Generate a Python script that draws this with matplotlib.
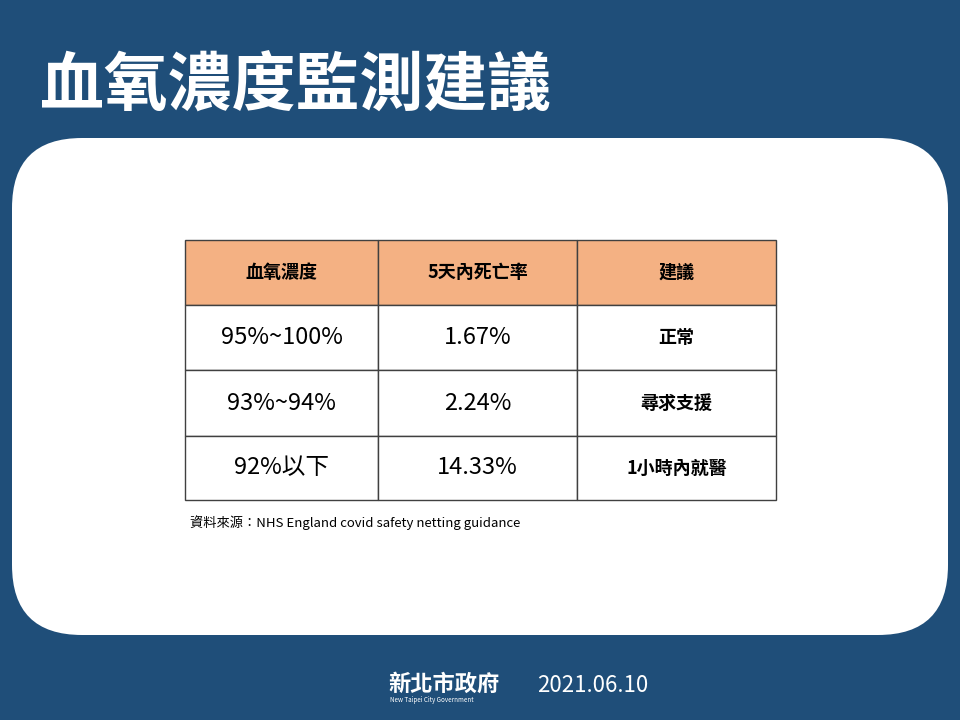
import matplotlib
matplotlib.use("Agg")
import matplotlib.pyplot as plt
from matplotlib.patches import FancyBboxPatch, Rectangle

plt.rcParams['font.family'] = ['Noto Sans CJK TC', 'DejaVu Sans']

BG = "#1F4E79"
HEAD = "#F4B183"
LINE = "#404040"

headers = ["血氧濃度", "5天內死亡率", "建議"]
spo2 = ["95%~100%", "93%~94%", "92%以下"]
death_rate = ["1.67%", "2.24%", "14.33%"]
advice = ["正常", "尋求支援", "1小時內就醫"]

col_x = [185, 378, 577, 776]
row_y = [240, 305, 370, 436, 500]

fig = plt.figure(figsize=(9.6, 7.2), dpi=100)
fig.patch.set_facecolor(BG)
ax = fig.add_axes([0, 0, 1, 1])
ax.set_xlim(0, 960)
ax.set_ylim(720, 0)
ax.axis("off")

ax.text(40, 86, "血氧濃度監測建議", ha="left", va="center",
        fontsize=46, fontweight="bold", color="white")

ax.add_patch(FancyBboxPatch((12, 138), 936, 497,
             boxstyle="round,pad=0,rounding_size=70", fc="white", ec="none"))

# header row
for j, h in enumerate(headers):
    ax.add_patch(Rectangle((col_x[j], row_y[0]), col_x[j + 1] - col_x[j],
                 row_y[1] - row_y[0], fc=HEAD, ec=LINE, lw=1))
    ax.text((col_x[j] + col_x[j + 1]) / 2, (row_y[0] + row_y[1]) / 2, h,
            ha="center", va="center", fontsize=13, fontweight="bold", color="black")

columns = [spo2, death_rate, advice]
for i in range(len(spo2)):
    for j, col in enumerate(columns):
        ax.add_patch(Rectangle((col_x[j], row_y[i + 1]), col_x[j + 1] - col_x[j],
                     row_y[i + 2] - row_y[i + 1], fc="white", ec=LINE, lw=1))
        bold = j == 2
        ax.text((col_x[j] + col_x[j + 1]) / 2, (row_y[i + 1] + row_y[i + 2]) / 2,
                col[i], ha="center", va="center",
                fontsize=13 if bold else 17,
                fontweight="bold" if bold else "normal", color="black")

ax.text(190, 523, "資料來源：NHS England covid safety netting guidance",
        ha="left", va="center", fontsize=9.5, color="black")

ax.text(388, 684, "新北市政府", ha="left", va="center", fontsize=16,
        fontweight="bold", color="white")
ax.text(390, 700, "New Taipei City Government", ha="left", va="center",
        fontsize=4.5, color="white")
ax.text(537, 686, "2021.06.10", ha="left", va="center", fontsize=16, color="white")

plt.savefig("out.png", dpi=100, facecolor=BG)
